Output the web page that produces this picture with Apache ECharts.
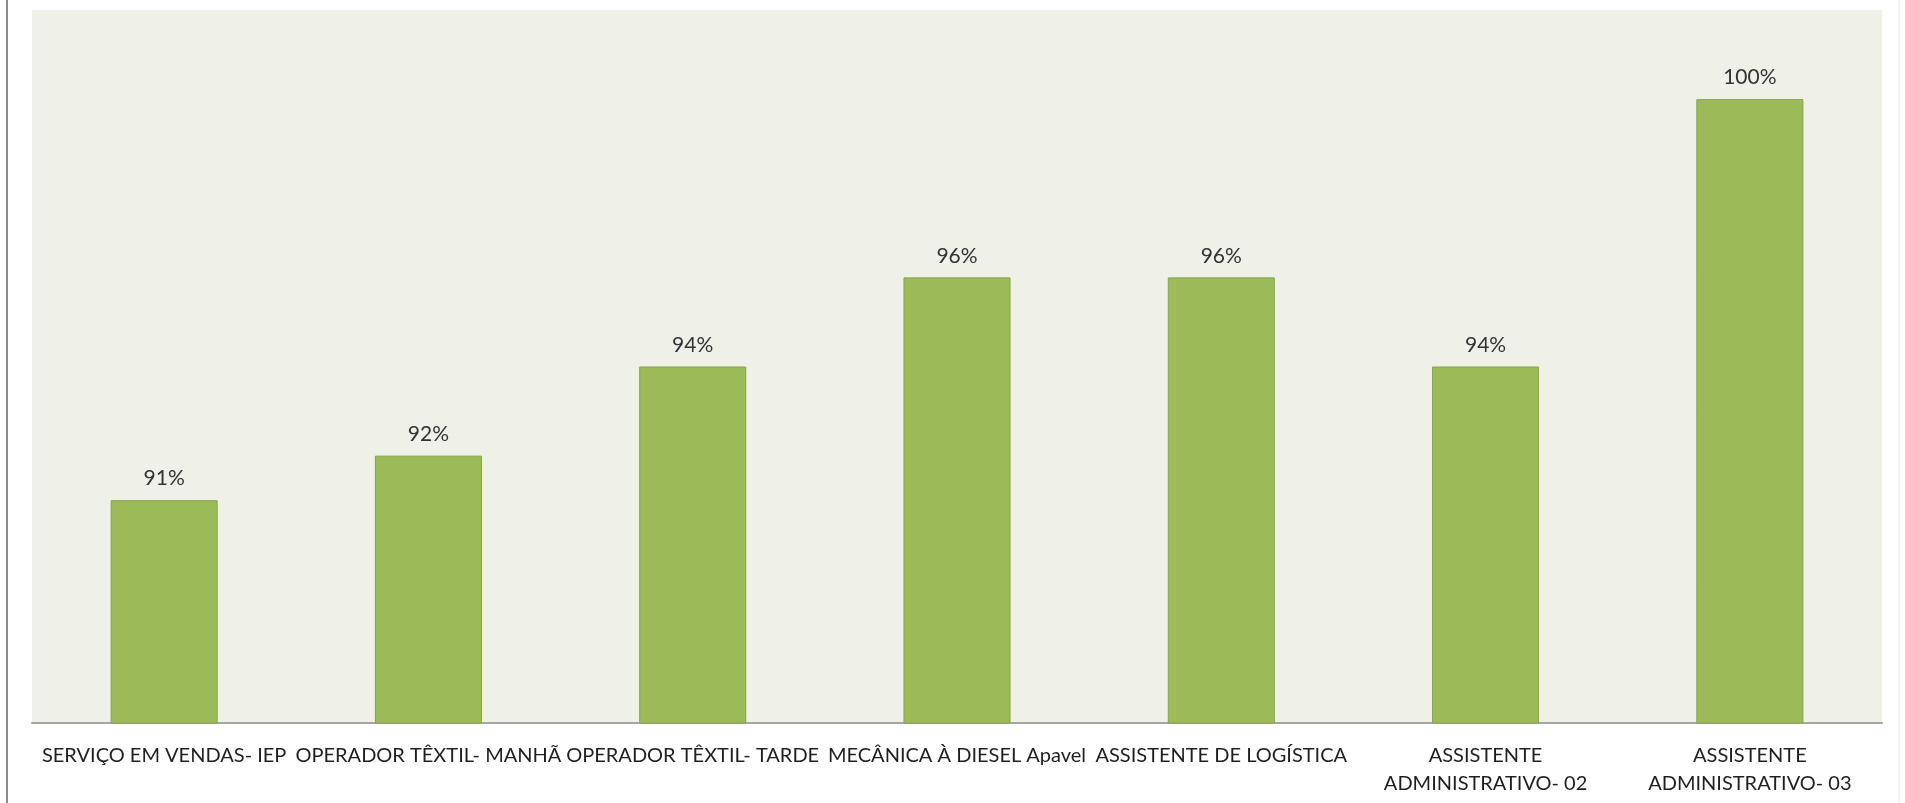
<!DOCTYPE html>
<html>
<head>
<meta charset="utf-8">
<style>
  html, body { margin: 0; padding: 0; background: #fff; }
  #chart { width: 1905px; height: 803px; }
</style>
<script src="https://cdn.jsdelivr.net/npm/echarts@6/dist/echarts.min.js"></script>
</head>
<body>
<div id="chart"></div>
<script>
// categorias e valores (%)
var categorias = [
  'SERVIÇO EM VENDAS- IEP',
  'OPERADOR TÊXTIL- MANHÃ',
  'OPERADOR TÊXTIL- TARDE',
  'MECÂNICA À DIESEL Apavel',
  'ASSISTENTE DE LOGÍSTICA',
  'ASSISTENTE\nADMINISTRATIVO- 02',
  'ASSISTENTE\nADMINISTRATIVO- 03'
];
var valores = [91, 92, 94, 96, 96, 94, 100];

var myChart = echarts.init(document.getElementById('chart'));

myChart.setOption({
  animation: false,
  backgroundColor: '#ffffff',
  textStyle: { fontFamily: 'Lato' },
  graphic: [
    { type: 'line', shape: { x1: 7, y1: 0, x2: 7, y2: 803 }, style: { stroke: '#8a8a8a', lineWidth: 2 } },
    { type: 'line', shape: { x1: 1899, y1: 0, x2: 1899, y2: 803 }, style: { stroke: '#e4e4e4', lineWidth: 1 } }
  ],
  grid: {
    left: 32, right: 23, top: 10, bottom: 80,
    show: true,
    backgroundColor: '#eff1e9',
    borderWidth: 0
  },
  xAxis: {
    type: 'category',
    data: categorias,
    axisTick: { show: false },
    axisLine: { lineStyle: { color: '#a6a6a6', width: 2 } },
    axisLabel: {
      interval: 0,
      color: '#1f1f1f',
      fontSize: 20,
      lineHeight: 28,
      margin: 19
    }
  },
  yAxis: {
    type: 'value',
    min: 86,
    max: 102,
    show: false,
    splitLine: { show: false }
  },
  series: [{
    type: 'bar',
    data: valores,
    barWidth: '40.5%',
    itemStyle: { color: '#9bbb59', borderColor: '#86a34a', borderWidth: 1 },
    label: {
      show: true,
      position: 'top',
      distance: 11,
      formatter: '{c}%',
      color: '#333333',
      fontSize: 21
    }
  }]
});
</script>
</body>
</html>
